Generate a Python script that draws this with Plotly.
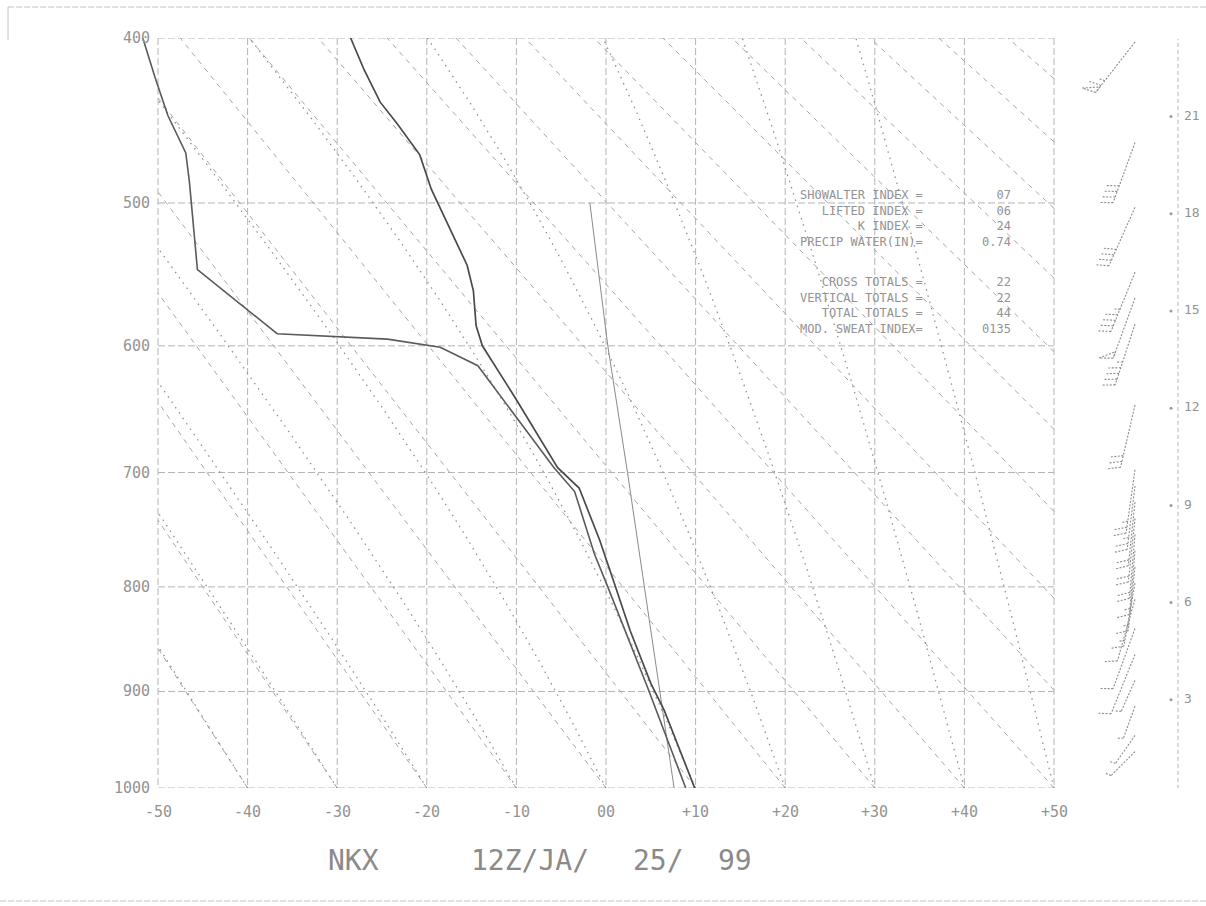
import numpy as np
import plotly.graph_objects as go

KAPPA = 0.2857

# ---- sounding data (pressure hPa, temperature degC) ----
temp_pres = [1000, 919, 892, 841, 796, 758, 713, 696, 640, 600, 585, 560, 542, 520, 491, 474, 469, 450, 437, 418, 400]
temp_c = [9.9, 6.5, 5.0, 2.7, 0.9, -0.7, -3.0, -5.4, -10.1, -13.8, -14.5, -14.8, -15.5, -17.2, -19.5, -20.5, -20.8, -23.3, -25.2, -27.0, -28.5]

dewp_pres = [1000, 921, 895, 800, 770, 716, 696, 615, 601, 595, 593, 591, 545, 525, 486, 468, 445, 423, 400]
dewp_c = [8.9, 5.7, 4.6, 0.2, -1.3, -3.5, -5.8, -14.3, -18.5, -24.4, -31.1, -36.7, -45.6, -45.9, -46.5, -46.9, -48.9, -50.3, -51.7]

# mean mixing-ratio line
mr_pres = [500, 600, 700, 800, 900, 1000]
mr_c = [-1.8, 0.2, 2.4, 4.3, 6.0, 7.6]

# ---- chart furniture ----
iso_p = [400, 500, 600, 700, 800, 900, 1000]
p_labels = ["400", "500", "600", "700", "800", "900", "1000"]
iso_t = [-50, -40, -30, -20, -10, 0, 10, 20, 30, 40, 50]
t_labels = ["-50", "-40", "-30", "-20", "-10", "00", "+10", "+20", "+30", "+40", "+50"]
dry_t1000 = list(range(-40, 150, 10))
moist_t1000 = list(range(-40, 60, 10))

# ---- winds aloft (height kft, direction deg, speed kt) ----
wind_hgt = [23.3, 20.2, 18.2, 16.2, 15.4, 14.6, 12.1, 10.1, 9.6, 9.1, 8.6, 8.1, 7.6, 7.1, 6.6, 6.1, 5.2, 4.4, 3.6, 2.8, 1.9, 1.4]
wind_dir = [218, 200, 204, 202, 200, 198, 193, 188, 187, 186, 186, 185, 185, 186, 190, 196, 200, 202, 204, 200, 215, 225]
wind_spd = [65, 40, 40, 45, 50, 45, 30, 25, 25, 20, 20, 20, 15, 15, 15, 10, 10, 10, 5, 5, 5, 5]
hgt_ticks = [3, 6, 9, 12, 15, 18, 21]

# ---- stability indices ----
index_names = ["SHOWALTER INDEX =", "LIFTED INDEX =", "K INDEX =", "PRECIP WATER(IN)=",
               "CROSS TOTALS =", "VERTICAL TOTALS =", "TOTAL TOTALS =", "MOD. SWEAT INDEX="]
index_values = ["07", "06", "24", "0.74", "22", "22", "44", "0135"]

title_parts = ["NKX", "12Z/JA/", "25/", "99"]

GRID = "#b4b4b4"
ADIA = "#a6a6a6"
MOIST = "#909090"
TEXT = "#939393"
FONT = "DejaVu Sans Mono"

W, H = 1206, 906
TOP, BOT = 38, 788            # plot area rows
X_M50, PX_PER_C = 158, 8.96   # -50 C column and scale


def sk(p):
    return np.asarray(p, dtype=float) ** KAPPA


def py_to_paper(py):
    return (BOT - py) / (BOT - TOP)


def clip_frame(tc, pp):
    """Keep the part of a curve that lies between -50 and +50 C."""
    xs, ys = [], []
    inside_prev = False
    for i, (t, p) in enumerate(zip(tc, pp)):
        inside = -50 <= t <= 50
        if inside and not inside_prev and i > 0:
            edge = -50 if tc[i - 1] < -50 else 50
            f = (edge - tc[i - 1]) / (t - tc[i - 1])
            xs.append(edge)
            ys.append(float(sk(pp[i - 1] + f * (p - pp[i - 1]))))
        if inside:
            xs.append(float(t))
            ys.append(float(sk(p)))
        elif inside_prev:
            edge = -50 if t < -50 else 50
            f = (edge - tc[i - 1]) / (t - tc[i - 1])
            xs.append(edge)
            ys.append(float(sk(pp[i - 1] + f * (p - pp[i - 1]))))
            xs.append(None)
            ys.append(None)
        inside_prev = inside
    xs.append(None)
    ys.append(None)
    return xs, ys


P_FINE = np.arange(1000.0, 399.0, -2.0)


def pseudo_adiabat(t0):
    rd, cp, lv, eps = 287.04, 1004.0, 2.501e6, 0.622

    def rate(tk, p):
        es = 6.112 * np.exp(17.67 * (tk - 273.15) / (tk - 29.65))
        rs = eps * es / (p - es)
        return (rd * tk + lv * rs) / (p * (cp + lv * lv * rs * eps / (rd * tk * tk)))

    tk = t0 + 273.15
    out = [tk]
    for p0, p1 in zip(P_FINE[:-1], P_FINE[1:]):
        dp = p1 - p0
        k1 = rate(tk, p0)
        k2 = rate(tk + 0.5 * dp * k1, p0 + 0.5 * dp)
        tk = tk + dp * k2
        out.append(tk)
    return np.array(out) - 273.15


fig = go.Figure()


def add_line(x, y, color, width, dash="solid", xa="x", ya="y"):
    fig.add_trace(go.Scatter(x=x, y=y, mode="lines", xaxis=xa, yaxis=ya,
                             line=dict(color=color, width=width, dash=dash),
                             hoverinfo="skip", showlegend=False))


# isobars and isotherms
gx, gy = [], []
for p in iso_p:
    gx += [-50, 50, None]
    gy += [float(sk(p)), float(sk(p)), None]
add_line(gx, gy, GRID, 1, "7px,3px")
gx, gy = [], []
for t in iso_t:
    gx += [t, t, None]
    gy += [float(sk(400)), float(sk(1000)), None]
add_line(gx, gy, GRID, 1, "7px,3px")

# dry adiabats
dx, dy = [], []
for t0 in dry_t1000:
    tc = (t0 + 273.15) * (P_FINE / 1000.0) ** KAPPA - 273.15
    a, b = clip_frame(tc, P_FINE)
    dx += a
    dy += b
add_line(dx, dy, ADIA, 1, "5px,5px")

# saturated adiabats
mx, my = [], []
for t0 in moist_t1000:
    a, b = clip_frame(pseudo_adiabat(t0), P_FINE)
    mx += a
    my += b
add_line(mx, my, MOIST, 1.3, "1.5px,5px")

# mixing ratio, dew point, temperature
add_line(mr_c, sk(mr_pres), "#8a8a8a", 1)
add_line(dewp_c, sk(dewp_pres), "#5a5a5a", 1.6)
add_line(temp_c, sk(temp_pres), "#4a4a4a", 1.7)

# ---- wind barbs (x2 in pixel units, y2 in kft) ----
PX_PER_KFT = 32.4
X_STATION = 1135.0
sx, sy = [], []
for h, d, s in zip(wind_hgt, wind_dir, wind_spd):
    staff = 64.0 if s > 5 else 34.0
    ux, uy = np.sin(np.radians(d)), np.cos(np.radians(d))
    px, pyy = uy, -ux
    fx, fy = px + 0.35 * ux, pyy + 0.35 * uy
    n = np.hypot(fx, fy)
    fx, fy = fx / n, fy / n
    x0, y0 = X_STATION, h * PX_PER_KFT
    x1, y1 = x0 + staff * ux, y0 + staff * uy
    sx += [x0, x1, None]
    sy += [y0 / PX_PER_KFT, y1 / PX_PER_KFT, None]
    spd = int(5 * round(s / 5))
    n50, rem = divmod(spd, 50)
    n10, rem = divmod(rem, 10)
    n5 = rem // 5
    bx, byy = x1, y1
    for _ in range(n50):
        ax, ay = bx + 14 * fx, byy + 14 * fy
        cx, cy = bx - 7 * ux, byy - 7 * uy
        sx += [bx, ax, cx, bx, None]
        sy += [byy / PX_PER_KFT, ay / PX_PER_KFT, cy / PX_PER_KFT, byy / PX_PER_KFT, None]
        bx, byy = bx - 9 * ux, byy - 9 * uy
    for _ in range(n10):
        sx += [bx, bx + 14 * fx, None]
        sy += [byy / PX_PER_KFT, (byy + 14 * fy) / PX_PER_KFT, None]
        bx, byy = bx - 6 * ux, byy - 6 * uy
    for _ in range(n5):
        sx += [bx, bx + 7 * fx, None]
        sy += [byy / PX_PER_KFT, (byy + 7 * fy) / PX_PER_KFT, None]
add_line(sx, sy, "#8c8c8c", 1.1, "2px,1.5px", xa="x2", ya="y2")

# height scale: dashed staff, tick dots and labels to its right
add_line([1178, 1178], [0.25, 23.4], GRID, 1, "4px,3px", xa="x2", ya="y2")
fig.add_trace(go.Scatter(x=[1171] * len(hgt_ticks), y=hgt_ticks, mode="markers",
                         xaxis="x2", yaxis="y2",
                         marker=dict(symbol="circle", size=3, color="#9a9a9a"),
                         hoverinfo="skip", showlegend=False))
fig.add_trace(go.Scatter(x=[1184] * len(hgt_ticks), y=hgt_ticks, mode="text",
                         xaxis="x2", yaxis="y2", text=[str(v) for v in hgt_ticks],
                         textposition="middle right",
                         textfont=dict(family=FONT, size=13, color=TEXT),
                         hoverinfo="skip", showlegend=False))

annotations = []
for p, lab in zip(iso_p, p_labels):
    annotations.append(dict(x=-50, y=float(sk(p)), xref="x", yref="y", text=lab, showarrow=False,
                            xanchor="right", yanchor="middle", xshift=-6,
                            font=dict(family=FONT, size=15, color=TEXT)))
for t, lab in zip(iso_t, t_labels):
    annotations.append(dict(x=t, y=float(sk(1000)), xref="x", yref="y", text=lab, showarrow=False,
                            xanchor="center", yanchor="middle", yshift=-24,
                            font=dict(family=FONT, size=15, color=TEXT)))

# index blocks: labels and values as two right-aligned multi-line texts per block
IDX_SIZE = 12
for rows, centre_px in ((slice(0, 4), 219), (slice(4, 8), 306)):
    for txt, xr in (("<br>".join(index_names[rows]), 925), ("<br>".join(index_values[rows]), 1013)):
        annotations.append(dict(x=xr / W, y=py_to_paper(centre_px), xref="paper", yref="paper",
                                text=txt, showarrow=False, xanchor="right", yanchor="middle",
                                align="right", font=dict(family=FONT, size=IDX_SIZE, color=TEXT)))

for part, cx in zip(title_parts, [353, 530, 658, 735]):
    annotations.append(dict(x=cx / W, y=py_to_paper(860), xref="paper", yref="paper", text=part,
                            showarrow=False, xanchor="center", yanchor="middle",
                            font=dict(family=FONT, size=28, color="#8a8a8a")))

shapes = [
    dict(type="line", xref="paper", yref="paper", x0=8 / W, x1=1.0, y0=py_to_paper(7), y1=py_to_paper(7),
         line=dict(color="#c4c4c4", width=1, dash="6px,2px")),
    dict(type="line", xref="paper", yref="paper", x0=0, x1=1.0, y0=py_to_paper(901), y1=py_to_paper(901),
         line=dict(color="#c4c4c4", width=1, dash="6px,2px")),
    dict(type="line", xref="paper", yref="paper", x0=8 / W, x1=8 / W, y0=py_to_paper(7), y1=py_to_paper(40),
         line=dict(color="#c4c4c4", width=1)),
]

fig.update_layout(
    width=W, height=H,
    margin=dict(l=0, r=0, t=TOP, b=H - BOT),
    paper_bgcolor="white", plot_bgcolor="white",
    showlegend=False,
    xaxis=dict(domain=[0, 1060 / W], range=[-50 - X_M50 / PX_PER_C, 50 + 6 / PX_PER_C], visible=False),
    yaxis=dict(domain=[0, 1], range=[float(sk(1000)), float(sk(400))], visible=False),
    xaxis2=dict(domain=[1060 / W, 1], range=[1060, 1206], visible=False, anchor="y2"),
    yaxis2=dict(domain=[0, 1], range=[(797 - BOT) / PX_PER_KFT, (797 - TOP) / PX_PER_KFT], visible=False, anchor="x2"),
    annotations=annotations,
    shapes=shapes,
)

fig.write_html("out.html")
